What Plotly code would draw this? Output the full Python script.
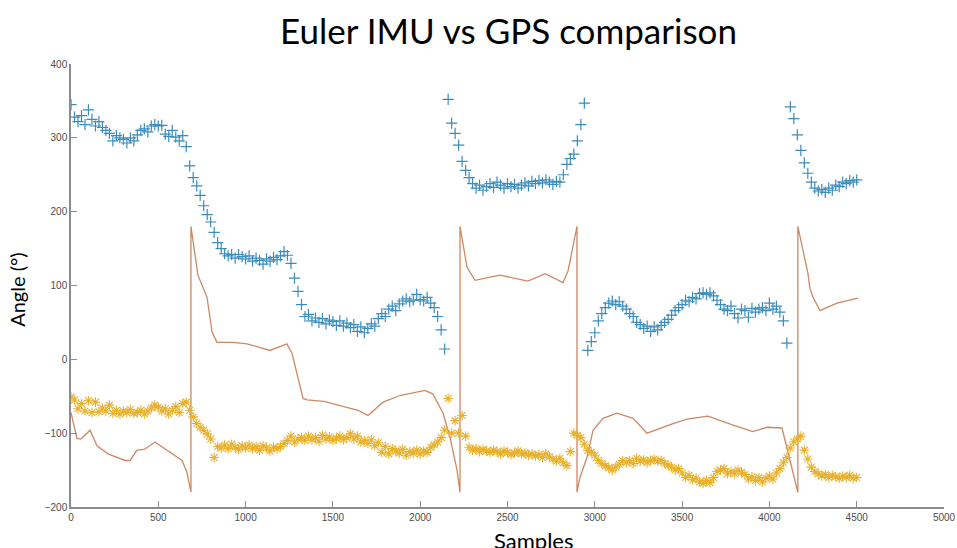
import plotly.graph_objects as go

# GPS samples are logged every 20 IMU samples
gps_samples = list(range(0, 4501, 20))

# GPS course over ground (deg, 0..360)
gps_heading = [
    345, 328, 322, 330, 318, 338, 325, 316, 322, 314,
    310, 306, 296, 303, 300, 298, 293, 300, 296, 304,
    310, 312, 308, 316, 318, 316, 317, 305, 302, 310,
    301, 296, 303, 288, 262, 246, 235, 222, 208, 196,
    186, 172, 158, 150, 143, 140, 142, 137, 142, 139,
    136, 140, 133, 137, 134, 129, 136, 133, 138, 135,
    140, 146, 141, 130, 110, 92, 74, 58, 61, 52,
    56, 50, 55, 48, 53, 51, 46, 52, 45, 49,
    43, 47, 38, 44, 36, 42, 48, 45, 55, 62,
    58, 68, 72, 66, 75, 79, 82, 78, 80, 88,
    81, 79, 84, 76, 70, 58, 40, 14, 352, 320,
    306, 290, 268, 256, 246, 238, 232, 236, 229, 234,
    238, 233, 240, 236, 232, 238, 234, 237, 232, 236,
    239, 235, 241, 238, 242, 239, 243, 240, 237, 241,
    240, 250, 264, 272, 278, 296, 318, 347, 12, 24,
    36, 52, 62, 70, 76, 79, 74, 78, 72, 68,
    62, 58, 50, 47, 42, 45, 38, 44, 40, 46,
    50, 54, 60, 66, 70, 74, 80, 78, 84, 82,
    89, 90, 88, 90, 86, 80, 74, 68, 66, 72,
    62, 56, 68, 66, 57, 69, 64, 68, 70, 66,
    76, 68, 72, 64, 52, 22, 342, 326, 304, 283,
    266, 252, 240, 232, 228, 230, 226, 232, 229, 236,
    234, 240, 238, 242, 240, 243,
]

# GPS-derived heading shifted into the IMU frame (deg)
gps_offset_heading = [
    -51, -55, -67, -60, -70, -56, -72, -58, -71, -66,
    -70, -62, -73, -69, -74, -70, -72, -68, -73, -72,
    -69, -74, -70, -66, -62, -65, -70, -67, -74, -69,
    -64, -72, -60, -58, -69, -78, -87, -92, -96, -101,
    -108, -133, -118, -120, -116, -121, -115, -119, -122, -117,
    -120, -116, -121, -118, -123, -117, -120, -124, -119, -121,
    -118, -114, -110, -104, -112, -108, -106, -110, -104, -109,
    -106, -111, -103, -108, -105, -110, -107, -104, -109, -106,
    -101, -108, -104, -112, -110, -114, -109, -117, -113, -126,
    -118, -128, -121, -124, -127, -122, -130, -125, -127, -123,
    -128, -124, -126, -119, -116, -112, -106, -96, -53, -100,
    -83, -100, -76, -104, -119, -123, -121, -125, -122, -124,
    -126, -123, -125, -128, -124, -126, -129, -127, -124, -128,
    -127, -130, -128, -131, -129, -133, -128, -132, -135, -138,
    -134, -140, -144, -125, -100, -103, -106, -115, -123, -126,
    -130, -137, -141, -144, -147, -150, -146, -142, -137, -140,
    -137, -141, -134, -138, -136, -140, -137, -135, -138, -137,
    -141, -143, -146, -150, -148, -154, -160, -157, -163, -161,
    -166, -168, -164, -167, -160, -152, -150, -148, -155, -152,
    -155, -150, -153, -156, -162, -159, -164, -160, -166, -161,
    -158, -162, -154, -148, -140, -133, -120, -112, -108, -104,
    -123, -135, -146, -152, -155, -158, -156, -160, -157, -159,
    -161, -158, -160, -157, -161, -160,
]

# IMU Euler yaw (deg, wrapped to -180..180)
imu_samples = [
    0, 34, 57, 109, 149, 212, 309, 338, 378, 420, 481, 538, 636, 664, 687,
    687, 727, 779, 808, 836, 928, 1008, 1140, 1237, 1266, 1329, 1352, 1449,
    1495, 1644, 1701, 1787, 1884, 2027, 2073, 2131, 2171, 2211, 2228,
    2228, 2268, 2314, 2457, 2617, 2715, 2818, 2847, 2898,
    2898, 2915, 2955, 2990, 3047, 3127, 3219, 3299, 3448, 3528, 3648, 3717,
    3792, 3906, 3986, 4072, 4135, 4163,
    4163, 4221, 4232, 4250, 4290, 4387, 4507,
]
imu_yaw = [
    -72, -107, -108, -96, -117, -128, -137, -137, -123, -122, -112, -121, -137, -153, -180,
    180, 114, 84, 37, 23, 23, 21, 12, 21, 8, -53, -55, -57,
    -60, -69, -76, -58, -49, -42, -47, -73, -106, -150, -180,
    180, 125, 107, 114, 106, 116, 104, 120, 180,
    -180, -160, -133, -96, -80, -73, -80, -100, -87, -81, -77, -83,
    -89, -98, -92, -93, -154, -180,
    180, 116, 96, 84, 66, 76, 83,
]

x_ticks = [0, 500, 1000, 1500, 2000, 2500, 3000, 3500, 4000, 4500, 5000]
y_ticks = [-200, -100, 0, 100, 200, 300, 400]

BLUE = "#3a8cbc"
ORANGE = "#cd8963"
YELLOW = "#e9b02a"

fig = go.Figure()

fig.add_trace(go.Scatter(
    x=gps_samples, y=gps_heading, mode="markers",
    marker=dict(symbol="cross-thin-open", size=8, color=BLUE,
                line=dict(color=BLUE, width=1.2)),
    showlegend=False,
))
fig.add_trace(go.Scatter(
    x=imu_samples, y=imu_yaw, mode="lines",
    line=dict(color=ORANGE, width=1.3),
    showlegend=False,
))
fig.add_trace(go.Scatter(
    x=gps_samples, y=gps_offset_heading, mode="markers",
    marker=dict(symbol="asterisk-open", size=8, color=YELLOW,
                line=dict(color=YELLOW, width=1.1)),
    showlegend=False,
))

axis_common = dict(
    showgrid=False, zeroline=False, showline=True, automargin=False,
    linecolor="#8c8c8c", linewidth=1.5,
    ticks="inside", ticklen=6, tickwidth=1.2, tickcolor="#8c8c8c",
    tickfont=dict(family="Liberation Sans", size=10, color="#4d4d4d"),
    mirror=False,
)

fig.update_layout(
    width=957, height=548,
    margin=dict(l=71, r=13, t=64, b=41),
    paper_bgcolor="white", plot_bgcolor="white",
    xaxis=dict(range=[0, 5000], tickvals=x_ticks, **axis_common),
    yaxis=dict(range=[-200, 400], tickvals=y_ticks, **axis_common),
    annotations=[
        dict(text="Euler IMU vs GPS comparison", xref="paper", yref="paper",
             x=0.5006, y=1.077, xanchor="center", yanchor="middle",
             showarrow=False, font=dict(family="Lato", size=35, color="black")),
        dict(text="Angle (°)", xref="paper", yref="paper",
             x=-0.062, y=0.49, xanchor="center", yanchor="middle", textangle=-90,
             showarrow=False, font=dict(family="Lato", size=20, color="black")),
        dict(text="Samples", xref="paper", yref="paper",
             x=0.53, y=-0.04, xanchor="center", yanchor="top",
             showarrow=False, font=dict(family="Lato", size=22, color="black")),
    ],
)

fig.write_html("out.html")
